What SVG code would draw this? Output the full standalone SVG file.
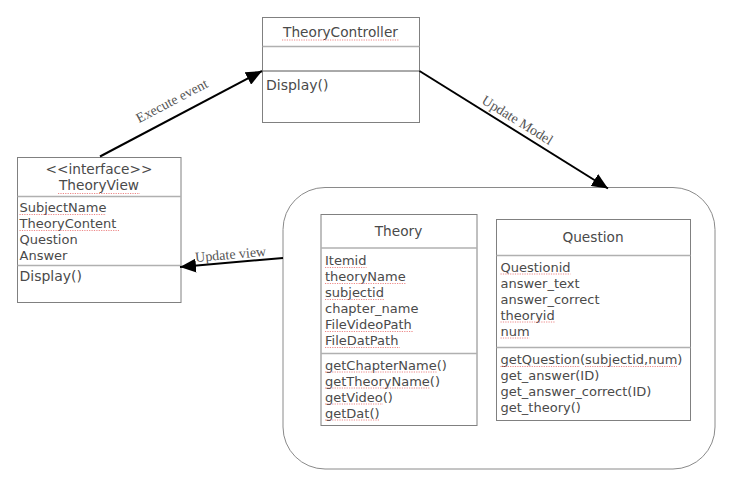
<svg xmlns="http://www.w3.org/2000/svg" width="739" height="494" viewBox="0 0 739 494">
<defs>
<marker id="arrow" markerUnits="userSpaceOnUse" markerWidth="18" markerHeight="14" refX="16" refY="7" orient="auto">
<path d="M0,0 L16,7 L0,14 Z" fill="#000"/>
</marker>
<style>
.box{fill:#fff;stroke:#808080;stroke-width:1}
.div{stroke:#b0b0b0;stroke-width:1.5;fill:none}
.pkg{fill:#fff;stroke:#8a8a8a;stroke-width:1}
.t{font-family:"DejaVu Sans",Verdana,sans-serif;font-size:13px;fill:#4a4a4a}
.title{font-family:"DejaVu Sans",Verdana,sans-serif;font-size:13.7px;fill:#4a4a4a;text-anchor:middle}
.op{font-family:"DejaVu Sans",Verdana,sans-serif;font-size:14px;fill:#4a4a4a}
.lbl{font-family:"Liberation Serif","Times New Roman",serif;font-size:14px;fill:#555;text-anchor:middle}
.conn{stroke:#000;stroke-width:2;fill:none;marker-end:url(#arrow)}
.sp{stroke:#e86a6a;stroke-width:0.8;stroke-dasharray:1.2 1.2;fill:none}
</style>
</defs>
<rect width="739" height="494" fill="#fff"/>

<g id="model-package">
<rect class="pkg" x="283" y="187.5" width="432" height="281.5" rx="42" ry="42"/>
</g>

<g id="TheoryController">
<rect class="box" x="262.5" y="17.5" width="157" height="105"/>
<line class="div" x1="262.5" y1="46.5" x2="419.5" y2="46.5"/>
<line class="div" x1="262.5" y1="71" x2="419.5" y2="71" style="stroke:#555;stroke-width:1"/>
<text class="title" x="340.5" y="37">TheoryController</text>
<text class="op" x="266" y="89.5">Display()</text>
<line class="sp" x1="282" y1="40" x2="399" y2="40"/>
</g>

<g id="TheoryView">
<rect class="box" x="17.5" y="157.5" width="163.5" height="145"/>
<line class="div" x1="17.5" y1="196.5" x2="181" y2="196.5"/>
<line class="div" x1="17.5" y1="265.5" x2="181" y2="265.5"/>
<text class="title" x="99" y="173.5">&lt;&lt;interface&gt;&gt;</text>
<text class="title" x="99" y="190">TheoryView</text>
<text class="t" x="19.5" y="212">SubjectName</text>
<text class="t" x="19.5" y="228">TheoryContent</text>
<text class="t" x="19.5" y="244">Question</text>
<text class="t" x="19.5" y="260">Answer</text>
<text class="op" x="19.5" y="280.5">Display()</text>
<line class="sp" x1="58" y1="193.5" x2="140" y2="193.5"/>
<line class="sp" x1="19.5" y1="214.5" x2="106" y2="214.5"/>
<line class="sp" x1="19.5" y1="230.5" x2="119" y2="230.5"/>
</g>

<g id="Theory">
<rect class="box" x="321" y="214.5" width="156" height="211"/>
<line class="div" x1="321" y1="248" x2="477" y2="248"/>
<line class="div" x1="321" y1="353.5" x2="477" y2="353.5"/>
<text class="title" x="398.5" y="236">Theory</text>
<text class="t" x="325" y="265">Itemid</text>
<text class="t" x="325" y="281">theoryName</text>
<text class="t" x="325" y="297">subjectid</text>
<text class="t" x="325" y="313">chapter_name</text>
<text class="t" x="325" y="329">FileVideoPath</text>
<text class="t" x="325" y="345">FileDatPath</text>
<text class="t" x="325" y="369.5">getChapterName()</text>
<text class="t" x="325" y="385.5">getTheoryName()</text>
<text class="t" x="325" y="401.5">getVideo()</text>
<text class="t" x="325" y="417.5">getDat()</text>
<line class="sp" x1="325" y1="267.5" x2="366.5" y2="267.5"/>
<line class="sp" x1="325" y1="283.5" x2="405.5" y2="283.5"/>
<line class="sp" x1="325" y1="299.5" x2="384" y2="299.5"/>
<line class="sp" x1="325" y1="331.5" x2="413.5" y2="331.5"/>
<line class="sp" x1="325" y1="347.5" x2="400" y2="347.5"/>
<line class="sp" x1="325" y1="372" x2="436.5" y2="372"/>
<line class="sp" x1="325" y1="388" x2="430" y2="388"/>
<line class="sp" x1="325" y1="404" x2="383" y2="404"/>
<line class="sp" x1="325" y1="420" x2="380" y2="420"/>
</g>

<g id="Question">
<rect class="box" x="496.5" y="219.5" width="194" height="201"/>
<line class="div" x1="496.5" y1="255.5" x2="690.5" y2="255.5"/>
<line class="div" x1="496.5" y1="347.5" x2="690.5" y2="347.5"/>
<text class="title" x="593" y="242">Question</text>
<text class="t" x="500.5" y="271.5">Questionid</text>
<text class="t" x="500.5" y="287.5">answer_text</text>
<text class="t" x="500.5" y="303.5">answer_correct</text>
<text class="t" x="500.5" y="319.5">theoryid</text>
<text class="t" x="500.5" y="335.5">num</text>
<text class="t" x="500.5" y="364">getQuestion(subjectid,num)</text>
<text class="t" x="500.5" y="380">get_answer(ID)</text>
<text class="t" x="500.5" y="396">get_answer_correct(ID)</text>
<text class="t" x="500.5" y="412">get_theory()</text>
<line class="sp" x1="500.5" y1="274" x2="570.5" y2="274"/>
<line class="sp" x1="500.5" y1="322" x2="554.5" y2="322"/>
<line class="sp" x1="500.5" y1="338" x2="529.5" y2="338"/>
<line class="sp" x1="500.5" y1="366.5" x2="580" y2="366.5"/>
<line class="sp" x1="585" y1="366.5" x2="677" y2="366.5"/>
</g>

<g id="connectors">
<line class="conn" x1="100" y1="156.5" x2="262" y2="71"/>
<line class="conn" x1="419.5" y1="71" x2="608" y2="188.5"/>
<line class="conn" x1="283" y1="258" x2="180" y2="267"/>
<text class="lbl" transform="translate(174,105) rotate(-27.7)">Execute event</text>
<text class="lbl" transform="translate(515,124) rotate(31.8)">Update Model</text>
<text class="lbl" transform="translate(231,259) rotate(-5)">Update view</text>
</g>
</svg>
